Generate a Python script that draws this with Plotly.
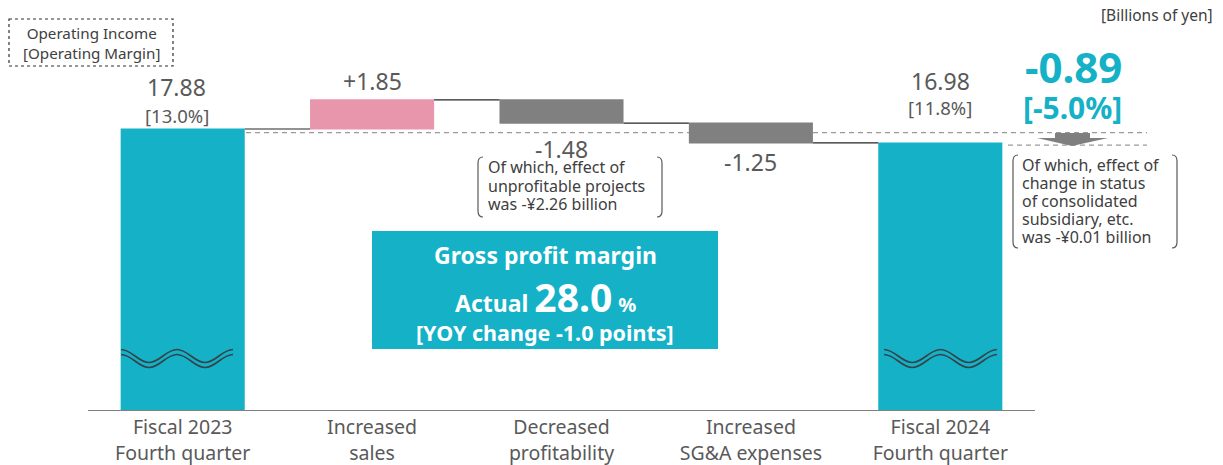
import plotly.graph_objects as go

# ---------------- data ----------------
categories = ["Fiscal 2023<br>Fourth quarter", "Increased<br>sales", "Decreased<br>profitability",
              "Increased<br>SG&A expenses", "Fiscal 2024<br>Fourth quarter"]
measures = ["absolute", "relative", "relative", "relative", "absolute"]
values = [17.88, 1.85, -1.48, -1.25, 16.98]
value_labels = ["17.88", "+1.85", "-1.48", "-1.25", "16.98"]
margin_labels = ["[13.0%]", None, None, None, "[11.8%]"]
change_value = "-0.89"
change_pct = "[-5.0%]"
gross_margin = "28.0"
gross_margin_yoy = "-1.0"
note_mid = ["Of which, effect of", "unprofitable projects", "was -¥2.26 billion"]
note_right = ["Of which, effect of", "change in status", "of consolidated", "subsidiary, etc.",
              "was -¥0.01 billion"]

# ---------------- layout helpers ----------------
W, H = 1223, 465
L, R, T, B = 88, 188, 10, 55
PW = W - L - R
PH = H - T - B
YMAX = 25.45

TEAL = "#14B1C7"
PINK = "#E896AC"
GREY = "#808080"
TXT = "#595959"
DARK = "#404040"
FONT = "Noto Sans"


def pxx(x):
    return (x - L) / PW


def pxy(y):
    return (T + PH - y) / PH


# running totals for label placement
starts, ends = [], []
level = 0.0
for m, v in zip(measures, values):
    if m == "absolute":
        starts.append(0.0)
        level = v
        ends.append(v)
    else:
        starts.append(level)
        level = level + v
        ends.append(level)

fig = go.Figure()
fig.add_trace(go.Waterfall(
    x=categories, y=values, measure=measures,
    width=[0.655] * len(values),
    increasing=dict(marker=dict(color=PINK)),
    decreasing=dict(marker=dict(color=GREY)),
    totals=dict(marker=dict(color=TEAL)),
    connector=dict(mode="between", line=dict(color="#262626", width=1.2)),
    textinfo="none", hoverinfo="skip",
))

ann = []
shapes = []


def text_ann(x, y, text, size, color, xanchor="center", yanchor="middle", weight="normal",
             align="center"):
    ann.append(dict(x=x, y=y, xref="paper", yref="paper", text=text, showarrow=False,
                    xanchor=xanchor, yanchor=yanchor, align=align,
                    font=dict(family=FONT, size=size, color=color, weight=weight)))


# value labels
label_shift = [42, 19, -26, -19, 62]
label_xshift = [-6, 0, 0, 0, 0]
for i, lab in enumerate(value_labels):
    if measures[i] == "absolute":
        ref = ends[i]
    elif label_shift[i] > 0:
        ref = max(starts[i], ends[i])
    else:
        ref = min(starts[i], ends[i])
    ann.append(dict(x=i, y=ref, xref="x", yref="y", text=lab, showarrow=False,
                    xanchor="center", yanchor="middle", yshift=label_shift[i],
                    xshift=label_xshift[i],
                    font=dict(family=FONT, size=23, color=TXT)))
margin_shift = [13, None, None, None, 36]
for i, lab in enumerate(margin_labels):
    if lab:
        ann.append(dict(x=i, y=ends[i], xref="x", yref="y", text=lab, showarrow=False,
                        xanchor="center", yanchor="middle", yshift=margin_shift[i],
                        xshift=label_xshift[i],
                        font=dict(family=FONT, size=18.5, color=TXT)))

# change labels
text_ann(pxx(1073), pxy(66), change_value, 42, TEAL, weight="bold")
text_ann(pxx(1072), pxy(107), change_pct, 30, TEAL, weight="bold")

# units
text_ann(pxx(1215), pxy(15), "[Billions of yen]", 15.5, DARK, xanchor="right")

# legend box
text_ann(pxx(91), pxy(42.5), "Operating Income<br>[Operating Margin]", 15.2, DARK)
shapes.append(dict(type="rect", xref="paper", yref="paper", x0=pxx(9), x1=pxx(173),
                   y0=pxy(19), y1=pxy(66), line=dict(color="#303030", width=1.2, dash="dot")))

# notes in brackets (one annotation per line for tight line spacing)
for k, line in enumerate(note_mid):
    text_ann(pxx(486), pxy(167 + 18.5 * k), line, 16, DARK, xanchor="left")
for k, line in enumerate(note_right):
    text_ann(pxx(1020), pxy(165 + 18 * k), line, 16, DARK, xanchor="left")


def bracket(x0, x1, top, bot, r=6, d=5):
    lp = (f"M {pxx(x0 + d)},{pxy(top)} Q {pxx(x0)},{pxy(top)} {pxx(x0)},{pxy(top + r)} "
          f"L {pxx(x0)},{pxy(bot - r)} Q {pxx(x0)},{pxy(bot)} {pxx(x0 + d)},{pxy(bot)}")
    rp = (f"M {pxx(x1 - d)},{pxy(top)} Q {pxx(x1)},{pxy(top)} {pxx(x1)},{pxy(top + r)} "
          f"L {pxx(x1)},{pxy(bot - r)} Q {pxx(x1)},{pxy(bot)} {pxx(x1 - d)},{pxy(bot)}")
    for p in (lp, rp):
        shapes.append(dict(type="path", xref="paper", yref="paper", path=p,
                           line=dict(color="#595959", width=1.2)))


bracket(478, 662, 157, 217)
bracket(1013, 1177, 155, 248)

# dashed reference lines
shapes.append(dict(type="line", xref="paper", yref="y", ysizemode="pixel", yanchor=ends[0],
                   x0=pxx(246), x1=pxx(1147), y0=-3.7, y1=-3.7, layer="below",
                   line=dict(color="#9a9a9a", width=1.2, dash="5px,4px")))
shapes.append(dict(type="line", xref="paper", yref="y", ysizemode="pixel", yanchor=ends[4],
                   x0=pxx(1008), x1=pxx(1147), y0=-2, y1=-2, layer="below",
                   line=dict(color="#9a9a9a", width=1.2, dash="5px,4px")))

# arrow
arrow = (f"M {pxx(1055)},{pxy(133)} L {pxx(1090)},{pxy(133)} L {pxx(1090)},{pxy(138)} "
         f"L {pxx(1108)},{pxy(138)} L {pxx(1072)},{pxy(146)} L {pxx(1037)},{pxy(138)} "
         f"L {pxx(1055)},{pxy(138)} Z")
shapes.append(dict(type="path", xref="paper", yref="paper", path=arrow,
                   fillcolor="#7f7f7f", line=dict(width=0)))

# gross margin box
shapes.append(dict(type="rect", xref="paper", yref="paper", x0=pxx(372), x1=pxx(718),
                   y0=pxy(231), y1=pxy(349), fillcolor=TEAL, line=dict(width=0)))
text_ann(pxx(545), pxy(255), "Gross profit margin", 23, "white", weight="bold")
text_ann(pxx(545), pxy(296),
         f"Actual <span style='font-size:39px'>{gross_margin}</span> <span style='font-size:20px'>%</span>",
         23, "white", weight="bold")
text_ann(pxx(545), pxy(332), f"[YOY change {gross_margin_yoy} points]", 21.5, "white", weight="bold")


# wavy break marks
def wave(x0, x1, ytop, amp=13):
    n = 4
    dx = (x1 - x0) / n
    p = f"M {pxx(x0)},{pxy(ytop)}"
    for k in range(n):
        xa = x0 + k * dx
        xb = xa + dx
        ya = ytop if k % 2 == 0 else ytop + amp
        yb = ytop + amp if k % 2 == 0 else ytop
        p += (f" C {pxx(xa + 0.38 * dx)},{pxy(ya)} {pxx(xb - 0.38 * dx)},{pxy(yb)} "
              f"{pxx(xb)},{pxy(yb)}")
    return p


for (wx0, wx1) in [(121, 233), (884, 997)]:
    for off in (0, 5):
        shapes.append(dict(type="path", xref="paper", yref="paper",
                           path=wave(wx0, wx1, 349.5 + off),
                           line=dict(color="#34444a", width=1.6)))

fig.update_layout(
    width=W, height=H,
    margin=dict(l=L, r=R, t=T, b=B, autoexpand=False),
    paper_bgcolor="white", plot_bgcolor="white",
    showlegend=False,
    annotations=ann, shapes=shapes,
    xaxis=dict(showline=True, linecolor="#808080", linewidth=1, ticks="",
               showgrid=False, tickfont=dict(family=FONT, size=19.5, color=TXT),
               range=[-0.5, 4.5], fixedrange=True, automargin=False),
    yaxis=dict(range=[0, YMAX], visible=False, showgrid=False, zeroline=False,
               fixedrange=True, automargin=False),
)

fig.write_html("out.html", config={"displayModeBar": False},
               post_script="document.body.style.margin='0px';")
